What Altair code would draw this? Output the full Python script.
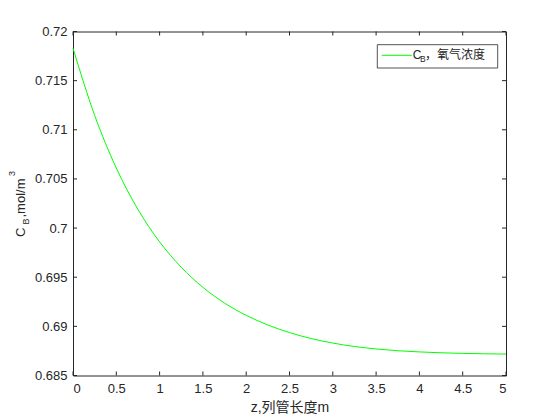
import altair as alt
import pandas as pd

# ---- data ----
z_vals = [0, 0.25, 0.5, 0.75, 1, 1.25, 1.5, 1.75, 2, 2.25, 2.5, 2.75,
          3, 3.25, 3.5, 3.75, 4, 4.25, 4.5, 4.75, 5]
cb_vals = [0.71830, 0.71147, 0.70611, 0.70190, 0.69860, 0.69601, 0.69397,
           0.69237, 0.69112, 0.69014, 0.68937, 0.68876, 0.68830, 0.68795,
           0.68770, 0.68752, 0.68740, 0.68731, 0.68725, 0.68721, 0.68718]
x_ticks = [0, 0.5, 1, 1.5, 2, 2.5, 3, 3.5, 4, 4.5, 5]
y_ticks = [0.685, 0.69, 0.695, 0.7, 0.705, 0.71, 0.715, 0.72]
x_title = "z,列管长度m"
y_title_parts = ["C", "B", ",mol/m", "3"]
legend_parts = ["C", "B", "，氧气浓度"]

W, H = 433, 344
AX = "#262626"
LAT = "Liberation Sans, Arial, Noto Sans CJK SC"
GREEN = "#00ff00"

df = pd.DataFrame({"z": z_vals, "cb": cb_vals})
xt = pd.DataFrame({"z": x_ticks})
yt = pd.DataFrame({"cb": y_ticks})

xscale = alt.Scale(domain=[0, 5], nice=False, zero=False)
yscale = alt.Scale(domain=[0.685, 0.72], nice=False, zero=False)

xaxis = alt.Axis(values=x_ticks, format="~g", title=x_title, grid=False,
                 ticks=False, domain=False, labelPadding=7,
                 labelFont=LAT, labelFontSize=13, labelColor=AX,
                 titleFont=LAT, titleFontSize=14, titleColor=AX,
                 titleFontWeight="normal", titlePadding=5)
yaxis = alt.Axis(values=y_ticks, format="~g", title=None, grid=False,
                 ticks=False, domain=False, labelPadding=6,
                 labelFont=LAT, labelFontSize=13, labelColor=AX)

X = alt.X("z:Q", scale=xscale, axis=xaxis)
Y = alt.Y("cb:Q", scale=yscale, axis=yaxis)

line = alt.Chart(df).mark_line(color=GREEN, strokeWidth=1, interpolate="monotone").encode(
    x=X, y=Y)

TL = 4
bt = alt.Chart(xt).mark_rule(color=AX, strokeWidth=1).encode(
    x=X, y=alt.value(H), y2=alt.value(H - TL))
tt = alt.Chart(xt).mark_rule(color=AX, strokeWidth=1).encode(
    x=X, y=alt.value(0), y2=alt.value(TL))
lt = alt.Chart(yt).mark_rule(color=AX, strokeWidth=1).encode(
    y=Y, x=alt.value(0), x2=alt.value(TL))
rt = alt.Chart(yt).mark_rule(color=AX, strokeWidth=1).encode(
    y=Y, x=alt.value(W), x2=alt.value(W - TL))


def txt(s, x, y, size, angle=0):
    return alt.Chart(pd.DataFrame({"t": [s]})).mark_text(
        align="left", baseline="alphabetic", font=LAT, fontSize=size,
        color=AX, angle=angle).encode(x=alt.value(x), y=alt.value(y), text="t:N")


# rotated y-axis title with subscript / superscript
ytitle = [
    txt(y_title_parts[0], -48, 205.5, 13, 270),
    txt(y_title_parts[1], -44.5, 193, 9, 270),
    txt(y_title_parts[2], -48, 186, 13, 270),
    txt(y_title_parts[3], -58, 144.5, 9, 270),
]

# legend
one = pd.DataFrame({"a": [0]})
lbox = alt.Chart(one).mark_rect(fill="white", stroke=AX, strokeWidth=0.8).encode(
    x=alt.value(304.3), x2=alt.value(424.7), y=alt.value(13.2), y2=alt.value(36.5))
lline = alt.Chart(one).mark_rule(color=GREEN, strokeWidth=1).encode(
    x=alt.value(308.7), x2=alt.value(338.7), y=alt.value(23.8))
ltext = [
    txt(legend_parts[0], 339.7, 27.5, 12),
    txt(legend_parts[1], 347, 30.5, 8.5),
    txt(legend_parts[2], 352, 27.5, 12),
]

chart = alt.layer(line, bt, tt, lt, rt, *ytitle, lbox, lline, *ltext).properties(
    width=W, height=H,
    autosize=alt.AutoSizeParams(type="none"),
    padding={"left": 65, "top": 23.5, "right": 40, "bottom": 40},
    background="white",
).configure_view(stroke=AX, strokeWidth=1)

chart.save("out.html", embed_options={"renderer": "svg", "actions": False})
